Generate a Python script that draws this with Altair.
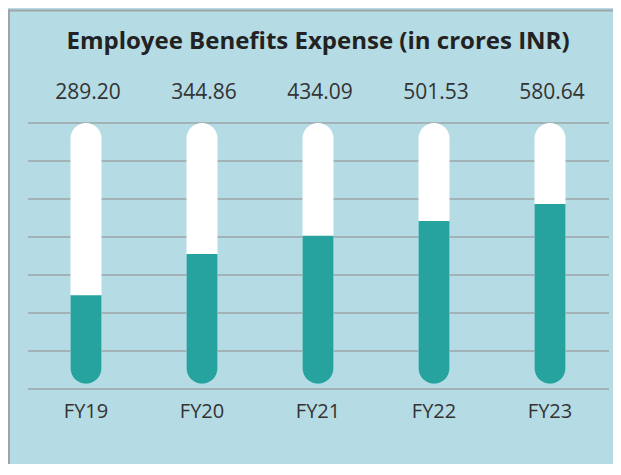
import altair as alt
import pandas as pd

# ---- data ----
years = ["FY19", "FY20", "FY21", "FY22", "FY23"]
values = [289.20, 344.86, 434.09, 501.53, 580.64]
# teal fill height of each thermometer bar, in gridline units (0..7)
fill_level = [2.47, 3.55, 4.03, 4.42, 4.87]
track_top = [7.0, 7.0, 7.0, 7.0, 7.0]
track_base = [0.14, 0.14, 0.14, 0.14, 0.14]
grid_ticks = [0, 1, 2, 3, 4, 5, 6, 7]
title_text = ["Employee Benefits Expense (in crores INR)"]

df = pd.DataFrame({
    "year": years,
    "value": values,
    "fill": fill_level,
    "top": track_top,
    "base": track_base,
    "label": [f"{v:.2f}" for v in values],
})
grid_df = pd.DataFrame({"g": grid_ticks})
title_df = pd.DataFrame({"t": title_text})

BG = "#b5dbe4"
TEAL = "#26a39f"
TEXT = "#333333"
GRID = "#9ea4a7"
FONT = "Open Sans"

y_scale = alt.Scale(domain=[0, 7], nice=False, zero=True)

x_enc = alt.X(
    "year:N", sort=years,
    scale=alt.Scale(paddingInner=0, paddingOuter=0),
    axis=alt.Axis(title=None, labelAngle=0, domain=False, ticks=False,
                  labelPadding=12, labelFontSize=20, labelColor=TEXT,
                  labelFont=FONT, grid=False),
)

grid = alt.Chart(grid_df).mark_rule(color=GRID, strokeWidth=1.5).encode(
    y=alt.Y("g:Q", scale=y_scale, axis=None),
    x=alt.value(0), x2=alt.value(581),
)

base = alt.Chart(df)

track = base.mark_bar(width=31, color="white", cornerRadius=15.5).encode(
    x=x_enc,
    y=alt.Y("top:Q", scale=y_scale, axis=None),
    y2="base:Q",
)
fill = base.mark_bar(width=31, color=TEAL,
                     cornerRadiusBottomLeft=15.5,
                     cornerRadiusBottomRight=15.5).encode(
    x=x_enc,
    y=alt.Y("fill:Q", scale=y_scale, axis=None),
    y2="base:Q",
)
labels = base.mark_text(font=FONT, fontSize=21, color=TEXT,
                        baseline="alphabetic", dx=2, dy=-23.7).encode(
    x=x_enc,
    y=alt.Y("top:Q", scale=y_scale, axis=None),
    text="label:N",
)
title = alt.Chart(title_df).mark_text(font=FONT, fontSize=24, fontWeight="bold",
                                      color="#222222", baseline="alphabetic").encode(
    text="t:N", x=alt.value(290), y=alt.value(-73.7),
)
border_top = alt.Chart(title_df).mark_rule(color=GRID, strokeWidth=2).encode(
    x=alt.value(-20), x2=alt.value(585), y=alt.value(-112.5),
)
border_left = alt.Chart(title_df).mark_rule(color=GRID, strokeWidth=2).encode(
    x=alt.value(-19), y=alt.value(-113.5), y2=alt.value(400),
)

chart = alt.layer(grid, track, fill, labels, title, border_top, border_left).properties(
    width=580,
    height=266,
    autosize=alt.AutoSizeParams(type="none"),
    padding={"left": 20, "top": 115, "right": 5, "bottom": 75},
    background=BG,
).configure_view(strokeWidth=0)

chart.save("out.html", embed_options={"renderer": "svg", "actions": False})
